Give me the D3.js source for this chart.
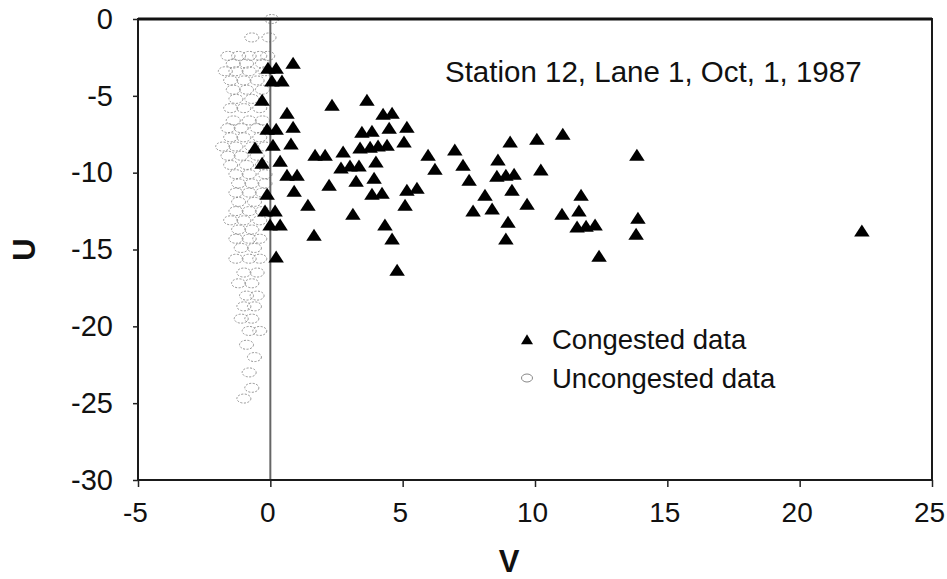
<!DOCTYPE html>
<html>
<head>
<meta charset="utf-8">
<script src="https://cdn.jsdelivr.net/npm/d3@7"></script>
<style>
body { margin: 0; background: #fff; }
text { font-family: "Liberation Sans", Arial, Helvetica, sans-serif; fill: #111; }
</style>
</head>
<body>
<script>
// ticks
var xTicks = [-5, 0, 5, 10, 15, 20, 25];
var yTicks = [0, -5, -10, -15, -20, -25, -30];
var titleText = "Station 12, Lane 1, Oct, 1, 1987";
var legendLabels = ["Congested data", "Uncongested data"];

// congested points [V, U]
var congested = [
  [-0.09, -3.30], [0.22, -3.30], [0.86, -2.97], [0.06, -4.14], [0.44, -4.14],
  [-0.31, -5.38], [0.63, -6.23], [-0.12, -7.27], [0.22, -7.27], [0.86, -7.14],
  [-0.58, -8.50], [0.10, -8.31], [0.78, -8.24], [-0.31, -9.48], [0.37, -9.35],
  [0.63, -10.26], [1.01, -10.26], [-0.12, -11.50], [0.90, -11.30], [-0.20, -12.60],
  [0.18, -12.60], [1.42, -12.21], [-0.01, -13.51], [0.37, -13.51], [1.65, -14.17],
  [0.22, -15.59], [1.69, -8.96], [2.07, -8.96], [2.33, -5.71], [3.65, -5.38],
  [4.26, -6.29], [4.60, -6.23], [3.46, -7.47], [3.84, -7.40], [4.49, -7.20],
  [5.16, -7.14], [3.39, -8.50], [3.77, -8.44], [4.07, -8.37], [4.41, -8.31],
  [5.05, -8.11], [2.75, -8.76], [5.96, -8.96], [6.97, -8.63], [2.67, -9.80],
  [3.01, -9.67], [3.35, -9.67], [3.99, -9.41], [6.22, -9.87], [7.28, -9.61],
  [2.22, -10.91], [3.24, -10.65], [3.92, -10.46], [7.51, -10.59], [3.84, -11.50],
  [4.22, -11.43], [5.16, -11.24], [5.54, -11.11], [5.09, -12.21], [7.66, -12.60],
  [3.12, -12.80], [4.33, -13.51], [4.60, -14.42], [4.79, -16.44], [9.06, -8.11],
  [10.07, -7.92], [11.05, -7.59], [13.85, -8.96], [8.60, -9.28], [10.22, -9.93],
  [8.56, -10.33], [8.90, -10.26], [9.21, -10.20], [9.13, -11.24], [8.11, -11.56],
  [11.74, -11.56], [9.70, -12.15], [8.38, -12.47], [11.02, -12.80], [11.66, -12.60],
  [13.89, -13.06], [8.98, -13.32], [11.59, -13.64], [11.93, -13.58], [12.27, -13.51],
  [13.82, -14.10], [8.90, -14.42], [12.42, -15.53], [22.35, -13.90]
];

// uncongested points [V, U]
var uncongested = [
  [0.05, 0.0], [-0.7, -1.2], [-0.05, -1.2],
  [-1.6, -2.4], [-1.2, -2.4], [-0.8, -2.4], [-0.4, -2.4], [-0.1, -2.4],
  [-1.4, -2.9], [-0.9, -2.9], [-0.3, -2.9],
  [-1.7, -3.4], [-1.3, -3.4], [-0.8, -3.4], [-0.2, -3.4],
  [-1.5, -4.0], [-1.0, -4.0], [-0.5, -4.0],
  [-1.4, -4.6], [-0.9, -4.6], [-0.3, -4.6],
  [-1.3, -5.2], [-0.7, -5.2],
  [-1.5, -5.8], [-1.0, -5.8], [-0.4, -5.8],
  [-1.4, -6.6], [-0.8, -6.6], [-0.3, -6.6],
  [-1.6, -7.1], [-1.1, -7.1], [-0.5, -7.1],
  [-1.5, -7.7], [-1.0, -7.7], [-0.4, -7.7],
  [-1.8, -8.3], [-1.3, -8.3], [-0.7, -8.3], [-0.2, -8.3],
  [-1.6, -8.9], [-1.1, -8.9], [-0.5, -8.9],
  [-1.5, -9.5], [-0.9, -9.5], [-0.3, -9.5],
  [-1.3, -10.1], [-0.8, -10.1], [-0.2, -10.1],
  [-1.2, -10.7], [-0.7, -10.7], [-0.2, -10.7],
  [-1.3, -11.3], [-0.8, -11.3], [-0.3, -11.3],
  [-1.2, -11.9], [-0.6, -11.9],
  [-1.3, -12.5], [-0.8, -12.5], [-0.3, -12.5],
  [-1.5, -13.1], [-1.0, -13.1], [-0.4, -13.1],
  [-1.2, -13.7], [-0.7, -13.7],
  [-1.3, -14.3], [-0.8, -14.3], [-0.4, -14.3],
  [-1.1, -14.9], [-0.6, -14.9],
  [-1.3, -15.6], [-0.8, -15.6], [-0.4, -15.6],
  [-1.0, -16.5], [-0.5, -16.5],
  [-1.2, -17.2], [-0.7, -17.2],
  [-0.9, -18.0], [-0.5, -18.0],
  [-1.0, -18.7], [-0.6, -18.7],
  [-1.1, -19.5], [-0.7, -19.5],
  [-0.8, -20.3], [-0.4, -20.3],
  [-0.9, -21.2], [-0.6, -22.0], [-0.8, -23.0], [-0.7, -24.0], [-1.0, -24.7]
];

var width = 947;
var height = 579;
var padding = { top: 19, right: 15, bottom: 99, left: 138 };
var plotW = width - padding.left - padding.right;
var plotH = height - padding.top - padding.bottom;

var svg = d3.select("body").append("svg")
    .attr("width", width)
    .attr("height", height);

var xScale = d3.scaleLinear().domain([-5, 25]).range([0, plotW]);
var yScale = d3.scaleLinear().domain([0, -30]).range([0, plotH]);

var g = svg.append("g")
    .attr("transform", "translate(" + padding.left + "," + padding.top + ")");

// triangle centred on its centroid
function triPath(w, h) {
    return "M0," + (-2 * h / 3) + "L" + (w / 2) + "," + (h / 3) + "L" + (-w / 2) + "," + (h / 3) + "Z";
}

// uncongested (faint ellipses)
g.append("g").selectAll("ellipse")
    .data(uncongested)
    .enter()
    .append("ellipse")
    .attr("cx", function(d) { return xScale(d[0]); })
    .attr("cy", function(d) { return yScale(d[1]); })
    .attr("rx", 7)
    .attr("ry", 4.5)
    .attr("fill", "none")
    .attr("stroke", "#888")
    .attr("stroke-width", 0.9)
    .attr("stroke-dasharray", "2,1.5");

// zero line
g.append("line")
    .attr("x1", xScale(0)).attr("x2", xScale(0))
    .attr("y1", 0).attr("y2", plotH)
    .attr("stroke", "#666")
    .attr("stroke-width", 2);

// congested (triangles)
g.append("g").selectAll("path")
    .data(congested)
    .enter()
    .append("path")
    .attr("d", triPath(15.5, 12))
    .attr("transform", function(d) {
        return "translate(" + xScale(d[0]) + "," + yScale(d[1]) + ")";
    })
    .attr("fill", "#000");

// frame
g.append("rect")
    .attr("width", plotW).attr("height", plotH)
    .attr("fill", "none")
    .attr("stroke", "#1a1a1a")
    .attr("stroke-width", 2);
g.append("line")
    .attr("x1", 0).attr("x2", plotW)
    .attr("y1", 0).attr("y2", 0)
    .attr("stroke", "#111")
    .attr("stroke-width", 3);

// axes
var xAxis = d3.axisBottom(xScale)
    .tickValues(xTicks)
    .tickFormat(function(d) { return String(d); })
    .tickSize(7)
    .tickPadding(15);
var yAxis = d3.axisLeft(yScale)
    .tickValues(yTicks)
    .tickFormat(function(d) { return String(d); })
    .tickSize(5)
    .tickPadding(20);

var xAxisG = g.append("g")
    .attr("transform", "translate(0," + plotH + ")")
    .call(xAxis);
var yAxisG = g.append("g").call(yAxis);

[xAxisG, yAxisG].forEach(function(a) {
    a.select(".domain").remove();
    a.selectAll(".tick line").attr("stroke", "#222").attr("stroke-width", 1.5);
    a.selectAll(".tick text")
        .attr("fill", "#111")
        .style("font-size", "29px")
        .style("font-family", "'Liberation Sans', Arial, sans-serif");
});
xAxisG.selectAll(".tick text")
    .style("font-size", "28px")
    .attr("dx", -3);

// axis titles
svg.append("text")
    .attr("transform", "translate(35," + (padding.top + yScale(-15)) + ") rotate(-90)")
    .attr("text-anchor", "middle")
    .style("font-size", "31px")
    .style("font-weight", "bold")
    .text("U");
svg.append("text")
    .attr("x", 509)
    .attr("y", 572)
    .attr("text-anchor", "middle")
    .style("font-size", "31px")
    .style("font-weight", "bold")
    .text("V");

// title
svg.append("text")
    .attr("x", 445)
    .attr("y", 82)
    .style("font-size", "29.5px")
    .text(titleText);

// legend
var lg = svg.append("g");
lg.append("path")
    .attr("d", triPath(12, 10))
    .attr("transform", "translate(527,341)")
    .attr("fill", "#000");
lg.append("ellipse")
    .attr("cx", 527).attr("cy", 378)
    .attr("rx", 5.5).attr("ry", 4)
    .attr("fill", "none")
    .attr("stroke", "#888")
    .attr("stroke-width", 1);
lg.selectAll("text")
    .data(legendLabels)
    .enter()
    .append("text")
    .attr("x", 552)
    .attr("y", function(d, i) { return 349 + i * 39; })
    .style("font-size", "27.5px")
    .text(function(d) { return d; });
</script>
</body>
</html>
